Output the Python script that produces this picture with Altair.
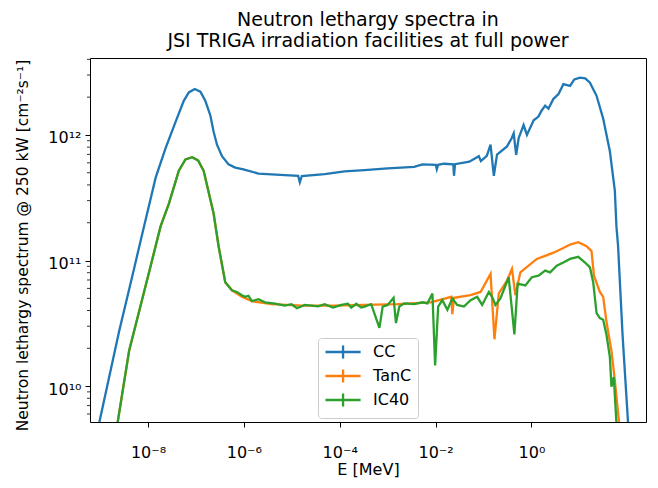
import altair as alt
import pandas as pd

# ---- data (E in MeV, flux in cm^-2 s^-1) ----
cc_energy = [8.2e-10, 9.6e-10, 2.5e-9, 4.74e-9, 8.26e-9, 1.45e-8, 2.33e-8, 3.76e-8, 5.58e-8, 7.1e-8,
             9.44e-8, 1.24e-7, 1.57e-7, 2.0e-7, 2.34e-7, 2.75e-7, 3.5e-7, 4.79e-7, 6.6e-7, 9.8e-7,
             2.01e-6, 7.19e-6, 1.36e-5, 1.47e-5,
             1.62e-5, 4.84e-5, 1.26e-4, 3.27e-4, 1.0e-3, 3.58e-3, 5.32e-3, 1.01e-2, 1.06e-2, 1.13e-2,
             1.50e-2, 2.34e-2, 2.42e-2, 2.54e-2, 5.06e-2, 7.98e-2, 8.79e-2, 0.117, 0.140, 0.164,
             0.191, 0.309, 0.386, 0.426, 0.479, 0.540, 0.685, 0.804, 1.11, 1.40,
             1.62, 1.93, 2.26, 2.88, 3.66, 4.63, 6.38, 7.83, 10.3, 13.2,
             16.6, 22.8, 31.3, 43.2, 54.8, 59.2, 64.1, 79.4, 103.5, 113.8]
cc_flux = [3.9e9, 5.1e9, 2.74e10, 7.59e10, 1.87e11, 4.59e11, 7.87e11, 1.27e12, 1.87e12, 2.18e12,
           2.32e12, 2.21e12, 1.87e12, 1.43e12, 1.06e12, 8.36e11, 6.78e11, 5.83e11, 5.50e11, 5.33e11,
           4.93e11, 4.79e11, 4.73e11, 4.2e11,
           4.71e11, 4.87e11, 5.12e11, 5.24e11, 5.42e11, 5.56e11, 5.83e11, 5.77e11, 5.33e11, 5.79e11,
           5.90e11, 5.83e11, 4.73e11, 5.85e11, 6.12e11, 6.78e11, 6.19e11, 6.82e11, 8.36e11, 4.73e11,
           6.98e11, 8.11e11, 9.42e11, 1.03e12, 6.93e11, 9.42e11, 1.20e12, 1.0e12, 1.31e12, 1.40e12,
           1.56e12, 1.71e12, 1.62e12, 1.94e12, 2.12e12, 2.54e12, 2.46e12, 2.77e12, 2.86e12, 2.82e12,
           2.61e12, 2.05e12, 1.35e12, 7.41e11, 3.61e11, 1.87e11, 1.30e11, 2.57e10, 5.1e9, 3.9e9]

tanc_energy = [2.04e-9, 2.32e-9, 4.04e-9, 7.06e-9, 1.14e-8, 1.83e-8, 2.73e-8, 4.40e-8, 6.05e-8, 8.34e-8,
               1.11e-7, 1.45e-7, 2.34e-7, 2.97e-7, 4.09e-7, 5.64e-7, 9.1e-7, 1.47e-6, 3.81e-6, 1.60e-5,
               7.83e-5, 3.28e-4, 1.61e-3, 7.94e-3, 2.13e-2, 2.23e-2, 2.42e-2, 5.37e-2, 8.67e-2, 0.140,
               0.169, 0.208, 0.309, 0.392, 0.461, 0.586, 1.29, 1.93, 2.88, 4.63,
               6.38, 9.48, 14.1, 17.9, 20.1, 26.7, 31.3, 36.6, 46.6, 54.8,
               67.3, 70.6]
tanc_flux = [3.9e9, 5.1e9, 1.91e10, 4.43e10, 9.1e10, 1.87e11, 2.84e11, 5.2e11, 6.38e11, 6.65e11,
             6.27e11, 5.18e11, 2.37e11, 1.30e11, 6.73e10, 5.79e10, 5.14e10, 4.75e10, 4.49e10, 4.38e10,
             4.38e10, 4.43e10, 4.49e10, 4.65e10, 5.14e10, 3.74e10, 5.05e10, 5.30e10, 5.62e10, 7.83e10,
             2.36e10, 5.47e10, 6.93e10, 8.57e10, 5.30e10, 8.05e10, 1.03e11, 1.09e11, 1.155e11, 1.26e11,
             1.34e11, 1.40e11, 1.30e11, 1.19e11, 7.59e10, 5.62e10, 5.14e10, 3.28e10, 1.91e10, 1.11e10,
             5.1e9, 3.9e9]

ic40_energy = [2.04e-9, 2.32e-9, 4.04e-9, 7.06e-9, 1.14e-8, 1.83e-8, 2.73e-8, 4.40e-8, 6.05e-8, 8.34e-8,
               1.11e-7, 1.45e-7, 2.34e-7, 2.97e-7, 4.09e-7, 5.64e-7, 7.16e-7, 9.1e-7, 1.06e-6, 1.25e-6,
               1.47e-6, 2.01e-6, 2.77e-6, 4.46e-6, 7.19e-6, 9.9e-6, 1.28e-5, 1.87e-5, 3.53e-5, 4.84e-5,
               7.23e-5, 1.08e-4, 1.48e-4, 1.74e-4, 2.21e-4, 2.81e-4, 3.28e-4, 4.53e-4, 6.73e-4, 7.87e-4,
               1.0e-3, 1.33e-3, 1.49e-3, 1.75e-3, 2.22e-3, 3.58e-3, 5.32e-3, 6.76e-3, 8.59e-3, 9.77e-3,
               1.13e-2, 1.38e-2, 1.76e-2, 2.23e-2, 2.83e-2, 3.90e-2, 5.37e-2, 7.36e-2, 9.35e-2, 0.129,
               0.151, 0.177, 0.225, 0.335, 0.440, 0.515, 0.743, 1.02, 1.40, 1.93,
               2.45, 3.37, 4.63, 6.38, 9.48, 13.1, 16.6, 19.4, 22.8, 26.7,
               31.3, 36.6, 43.2, 46.6, 52.2, 59.2, 62.7]
ic40_flux = [3.9e9, 5.1e9, 1.91e10, 4.43e10, 9.1e10, 1.87e11, 2.84e11, 5.2e11, 6.38e11, 6.65e11,
             6.27e11, 5.18e11, 2.37e11, 1.30e11, 6.73e10, 5.79e10, 5.62e10, 5.30e10, 5.14e10, 5.24e10,
             4.75e10, 4.93e10, 4.65e10, 4.53e10, 4.38e10, 4.49e10, 4.17e10, 4.43e10, 4.32e10, 4.49e10,
             4.22e10, 4.43e10, 4.53e10, 4.22e10, 4.53e10, 4.22e10, 4.30e10, 4.49e10, 2.91e10, 4.30e10,
             4.43e10, 5.05e10, 3.18e10, 4.30e10, 4.56e10, 4.49e10, 4.65e10, 4.56e10, 5.47e10, 1.46e10,
             4.30e10, 4.84e10, 4.05e10, 4.99e10, 4.43e10, 4.30e10, 4.84e10, 5.14e10, 4.43e10, 5.62e10,
             5.14e10, 4.43e10, 4.99e10, 7.36e10, 2.58e10, 6.55e10, 6.34e10, 7.36e10, 7.59e10, 8.32e10,
             8.05e10, 9.1e10, 9.64e10, 1.03e11, 1.07e11, 9.64e10, 8.81e10, 6.73e10, 3.81e10, 3.48e10,
             3.38e10, 2.58e10, 1.70e10, 9.9e9, 1.18e10, 5.1e9, 3.9e9]

series_names = ["CC", "TanC", "IC40"]
series_colors = ["#1f77b4", "#ff7f0e", "#2ca02c"]

x_limits = [6.17e-10, 245.0]
y_limits = [5.18e9, 4.1e12]
x_ticks = [1e-8, 1e-6, 1e-4, 1e-2, 1e0]
y_ticks = [1e10, 1e11, 1e12]
y_minor_ticks = [6e9, 7e9, 8e9, 9e9,
                 2e10, 3e10, 4e10, 5e10, 6e10, 7e10, 8e10, 9e10,
                 2e11, 3e11, 4e11, 5e11, 6e11, 7e11, 8e11, 9e11,
                 2e12, 3e12, 4e12]

rows = []
for name, es, fs in [("CC", cc_energy, cc_flux), ("TanC", tanc_energy, tanc_flux), ("IC40", ic40_energy, ic40_flux)]:
    for e, f in zip(es, fs):
        rows.append({"series": name, "E": e, "flux": f})
df = pd.DataFrame(rows)

W, H = 556, 364
FS = 16

xscale = alt.Scale(type="log", domain=x_limits, nice=False)
yscale = alt.Scale(type="log", domain=y_limits, nice=False)

x_label_expr = ("datum.value < 1e-7 ? '10⁻⁸' : datum.value < 1e-5 ? '10⁻⁶' : "
                "datum.value < 1e-3 ? '10⁻⁴' : datum.value < 1e-1 ? '10⁻²' : '10⁰'")
y_label_expr = "datum.value < 3e10 ? '10¹⁰' : datum.value < 3e11 ? '10¹¹' : '10¹²'"

xaxis = alt.Axis(values=x_ticks, labelExpr=x_label_expr, title="E [MeV]", grid=False,
                 tickSize=5, tickColor="black", tickWidth=1, domain=False,
                 labelFontSize=FS, labelColor="black", labelBaseline="alphabetic", labelPadding=30,
                 labelFlush=False, labelOverlap=False,
                 titleFontSize=FS, titleFontWeight="normal", titleColor="black",
                 titleX=W / 2, titleY=52, titleBaseline="alphabetic", titleAlign="center")
yaxis = alt.Axis(values=y_ticks, labelExpr=y_label_expr,
                 title="Neutron lethargy spectrum @ 250 kW [cm⁻²s⁻¹]", grid=False,
                 tickSize=5, tickColor="black", tickWidth=1, domain=False,
                 labelFontSize=FS, labelColor="black", labelPadding=4, labelOffset=3,
                 labelFlush=False, labelOverlap=False,
                 titleFontSize=15.5, titleFontWeight="normal", titleColor="black",
                 titleX=-63, titleY=187, titleAngle=-90, titleAlign="center", titleBaseline="alphabetic")

legend = alt.Legend(orient="none", legendX=228, legendY=280, title=None, direction="vertical",
                    symbolType="M-1,0L4.4,0M1.7,-1L1.7,1", symbolSize=169, symbolStrokeWidth=2.3,
                    labelFontSize=FS, labelColor="black", labelOffset=33, rowPadding=0,
                    padding=6, strokeColor="#cccccc", fillColor="white", cornerRadius=3)

colscale = alt.Scale(domain=series_names, range=series_colors)

base = alt.Chart(df)


def series_layer(name):
    return base.transform_filter(alt.datum.series == name).mark_line(strokeWidth=2.3, clip=True).encode(
        x=alt.X("E:Q", scale=xscale, axis=xaxis),
        y=alt.Y("flux:Q", scale=yscale, axis=yaxis),
        color=alt.Color("series:N", scale=colscale, legend=legend, sort=series_names),
    )


minor = alt.Chart(pd.DataFrame({"v": y_minor_ticks})).mark_rule(color="black", strokeWidth=0.8).encode(
    y=alt.Y("v:Q", scale=yscale, axis=yaxis),
    x=alt.value(0),
    x2=alt.value(-3),
)

chart = alt.layer(*[series_layer(n) for n in series_names], minor).properties(
    width=W, height=H,
    title=alt.TitleParams(["Neutron lethargy spectra in", "JSI TRIGA irradiation facilities at full power"],
                          fontSize=19, fontWeight="normal", color="black", anchor="middle",
                          offset=7, lineHeight=21),
    autosize=alt.AutoSizeParams(type="none"),
    padding={"left": 82, "top": 50, "right": 4, "bottom": 56},
).configure(font="DejaVu Sans").configure_view(stroke="black", strokeWidth=1)

chart.save("out.html", embed_options={"renderer": "svg", "actions": False})
